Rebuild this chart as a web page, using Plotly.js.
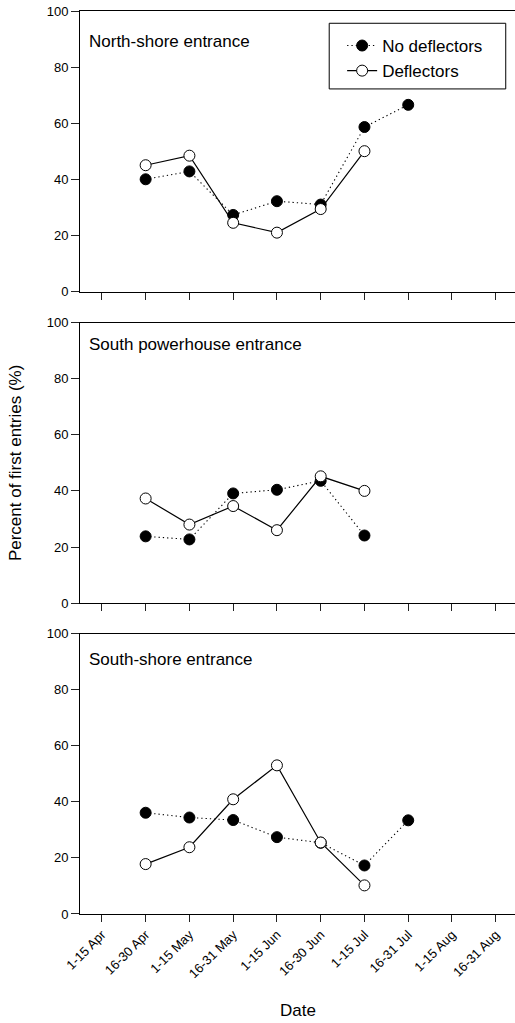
<!DOCTYPE html>
<html>
<head>
<meta charset="utf-8">
<script src="https://cdn.plot.ly/plotly-3.0.1.min.js"></script>
<style>
  html, body { margin: 0; padding: 0; background: #fff; }
  #chart { width: 515px; height: 1023px; }
</style>
</head>
<body>
<div id="chart"></div>
<script>
"use strict";

// Categorias del eje X (quincenas)
const fechas = ['1-15 Apr', '16-30 Apr', '1-15 May', '16-31 May', '1-15 Jun',
                '16-30 Jun', '1-15 Jul', '16-31 Jul', '1-15 Aug', '16-31 Aug'];

// North-shore entrance
const norteSin = [null, 40.1, 42.9, 27.4, 32.3, 31.1, 58.7, 66.6, null, null];
const norteCon = [null, 45.1, 48.5, 24.6, 21.1, 29.5, 50.1, null, null, null];

// South powerhouse entrance
const casaSin = [null, 23.8, 22.7, 39.1, 40.4, 43.6, 24.1, null, null, null];
const casaCon = [null, 37.3, 28.0, 34.6, 26.0, 45.2, 40.0, null, null, null];

// South-shore entrance
const surSin = [null, 36.1, 34.4, 33.5, 27.4, 25.4, 17.3, 33.4, null, null];
const surCon = [null, 17.8, 23.8, 40.9, 53.0, 25.5, 10.2, null, null, null];

const paneles = ['North-shore entrance', 'South powerhouse entrance', 'South-shore entrance'];
const ticksY = [0, 20, 40, 60, 80, 100];

const fuente = 'Arial, "Liberation Sans", sans-serif';
const xIdx = fechas.map((_, i) => i);

function trazoSin(y, n, leyenda) {
    return {
        x: xIdx, y: y,
        xaxis: n === 1 ? 'x' : 'x' + n,
        yaxis: n === 1 ? 'y' : 'y' + n,
        type: 'scatter', mode: 'lines+markers',
        name: 'No deflectors',
        showlegend: leyenda,
        connectgaps: false,
        line: { color: '#000', width: 1.1, dash: '1.3px,3px' },
        marker: { color: '#000', size: 11, line: { color: '#000', width: 1 } }
    };
}

function trazoCon(y, n, leyenda) {
    return {
        x: xIdx, y: y,
        xaxis: n === 1 ? 'x' : 'x' + n,
        yaxis: n === 1 ? 'y' : 'y' + n,
        type: 'scatter', mode: 'lines+markers',
        name: 'Deflectors',
        showlegend: leyenda,
        connectgaps: false,
        line: { color: '#000', width: 1.2 },
        marker: { color: '#fff', size: 11, line: { color: '#000', width: 1 } }
    };
}

const datos = [
    trazoSin(norteSin, 1, true), trazoCon(norteCon, 1, true),
    trazoSin(casaSin, 2, false), trazoCon(casaCon, 2, false),
    trazoSin(surSin, 3, false), trazoCon(surCon, 3, false)
];

function ejeX(anchor, etiquetas) {
    return {
        anchor: anchor,
        range: [-0.5, 9.44],
        tickmode: 'array',
        tickvals: xIdx,
        ticktext: fechas,
        showticklabels: etiquetas,
        tickangle: -45,
        ticks: 'outside', ticklen: 7, tickwidth: 1, tickcolor: '#222',
        showline: true, linecolor: '#000', linewidth: 1, mirror: true,
        showgrid: false, zeroline: false,
        tickfont: { family: fuente, size: 13, color: '#000' }
    };
}

function ejeY(anchor, dominio) {
    return {
        anchor: anchor,
        domain: dominio,
        range: [0, 100],
        tickmode: 'array',
        tickvals: ticksY,
        ticks: 'outside', ticklen: 8, tickwidth: 1, tickcolor: '#222',
        showline: true, linecolor: '#000', linewidth: 1,
        showgrid: false, zeroline: false,
        tickfont: { family: fuente, size: 13, color: '#000' }
    };
}

const anotaciones = [
    { text: paneles[0], xref: 'x domain', yref: 'y domain', x: 0.016, y: 0.893 },
    { text: paneles[1], xref: 'x2 domain', yref: 'y2 domain', x: 0.016, y: 0.921 },
    { text: paneles[2], xref: 'x3 domain', yref: 'y3 domain', x: 0.016, y: 0.909 }
].map(a => Object.assign(a, {
    xanchor: 'left', yanchor: 'middle', showarrow: false,
    font: { family: fuente, size: 17, color: '#000' }
}));

anotaciones.push({
    text: 'Percent of first entries (%)',
    xref: 'paper', yref: 'paper', x: -0.148, y: 0.5,
    textangle: -90, xanchor: 'center', yanchor: 'middle', showarrow: false,
    font: { family: fuente, size: 17, color: '#000' }
});
anotaciones.push({
    text: 'Date',
    xref: 'paper', yref: 'paper', x: 0.5, y: -0.107,
    xanchor: 'center', yanchor: 'middle', showarrow: false,
    font: { family: fuente, size: 17, color: '#000' }
});

// Recuadro de la leyenda (mas ancho que el que dibuja Plotly)
const cajaLeyenda = {
    type: 'rect', xref: 'paper', yref: 'paper',
    x0: 0.5729, x1: 0.9787, y0: 0.9137, y1: 0.9864,
    line: { color: '#000', width: 1 }, fillcolor: 'rgba(0,0,0,0)', layer: 'above'
};

const layout = {
    width: 515, height: 1023,
    margin: { l: 79.5, r: 0, t: 11, b: 108.7 },
    paper_bgcolor: '#ffffff',
    plot_bgcolor: '#ffffff',
    font: { family: fuente, color: '#000' },
    xaxis: ejeX('y', false),
    xaxis2: ejeX('y2', false),
    xaxis3: ejeX('y3', true),
    yaxis: ejeY('x', [0.6889, 1]),
    yaxis2: ejeY('x2', [0.3443, 0.6549]),
    yaxis3: ejeY('x3', [0, 0.3106]),
    showlegend: true,
    legend: {
        x: 0.6026, y: 0.9812, xanchor: 'left', yanchor: 'top',
        borderwidth: 0, bgcolor: 'rgba(0,0,0,0)',
        font: { family: fuente, size: 17, color: '#000' },
        tracegroupgap: 0
    },
    shapes: [cajaLeyenda],
    annotations: anotaciones
};

const config = { displayModeBar: false, staticPlot: true };

Plotly.newPlot('chart', datos, layout, config);
</script>
</body>
</html>
